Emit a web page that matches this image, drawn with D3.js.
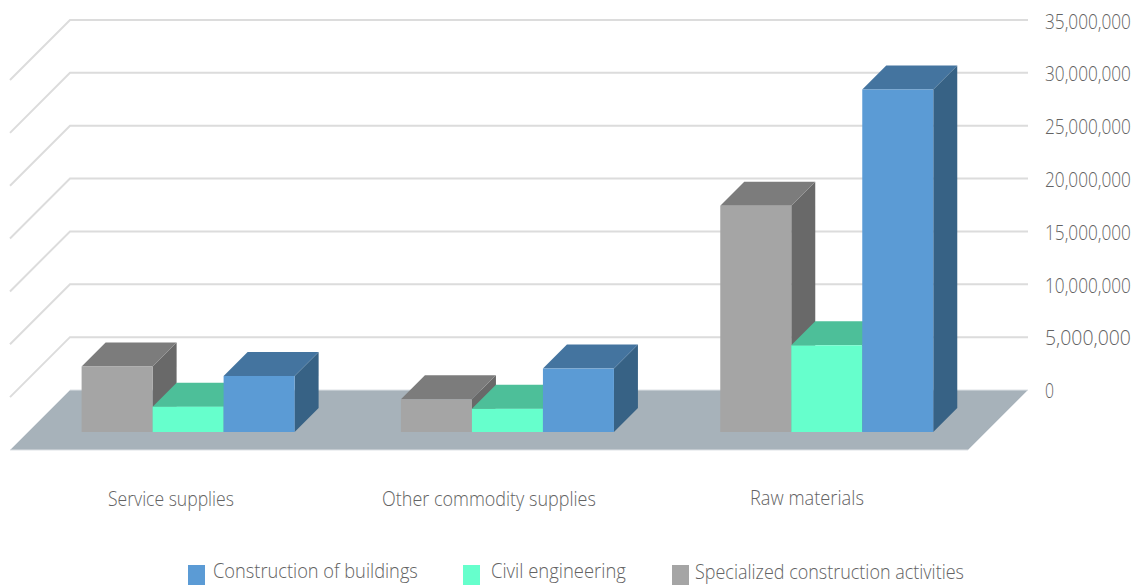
<!DOCTYPE html>
<html><head><meta charset="utf-8">
<style>html,body{margin:0;padding:0;background:#fff}svg{display:block}</style>
<script src="https://cdn.jsdelivr.net/npm/d3@7"></script></head>
<body><svg id="c" width="1139" height="587"></svg>
<script>
const categories = ["Service supplies","Other commodity supplies","Raw materials"];
const seriesNames = ["Specialized construction activities","Civil engineering","Construction of buildings"];
const specialized = [6200000,3100000,21400000];
const civil = [2400000,2200000,8200000];
const buildings = [5300000,6000000,32400000];
const tickValues = [0,5000000,10000000,15000000,20000000,25000000,30000000,35000000];
const legendOrder = ["Construction of buildings","Civil engineering","Specialized construction activities"];

const values = [specialized,civil,buildings];
const colors = {
  "Specialized construction activities":{front:"#a5a5a5",top:"#7c7c7c",side:"#696969"},
  "Civil engineering":{front:"#66ffcc",top:"#4dbf99",side:"#3d9a7b"},
  "Construction of buildings":{front:"#5b9bd5",top:"#44749f",side:"#376285"}
};
const svg = d3.select("#c");
const font = "'Open Sans', sans-serif";
const textColor = "#636363";

const floorL=10, floorR=968, floorFront=450, floorBack=390, wallDX=60, wallTop=20;
const barBase=432, barDepth=24;

const h = d3.scaleLinear().domain([0,35000000]).range([0,floorBack-wallTop]);
const yBack = v => floorBack - h(v);
const x0 = d3.scaleBand().domain(categories).range([floorL,floorR]);
const x1 = d3.scaleBand().domain(seriesNames).range([71.6,284.6]);

// text horizontally squeezed to the reference's width, starting at x
function label(x,y,str,width){
  const t = svg.append("text").text(str)
    .attr("font-family",font).attr("font-weight",300).attr("font-size",19.5)
    .attr("fill",textColor).attr("dominant-baseline","central");
  const natural = t.node().getComputedTextLength();
  t.attr("transform",`translate(${x},${y}) scale(${width/natural},1)`);
  return t;
}

// gridlines on the back and side walls
const line = d3.line();
svg.append("g").selectAll("path").data(tickValues.filter(d=>d>0)).join("path")
  .attr("d",d=>line([[floorL,yBack(d)+wallDX],[floorL+wallDX,yBack(d)],[floorR+wallDX,yBack(d)]]))
  .attr("fill","none").attr("stroke","#dcdcdc").attr("stroke-width",2);

// floor
svg.append("path")
  .attr("d",line([[floorL+wallDX,floorBack],[floorR+wallDX,floorBack],[floorR,floorFront],[floorL,floorFront]])+"Z")
  .attr("fill","#a7b2ba").attr("stroke","#dde1e5").attr("stroke-width",1);

// bars
const bars = svg.append("g");
categories.forEach((cat,ci)=>{
  seriesNames.forEach((name,si)=>{
    const v = values[si][ci];
    const c = colors[name];
    const l = x0(cat)+x1(name), r = l+x1.bandwidth(), t = barBase-h(v), b = barBase, d = barDepth;
    bars.append("path").attr("d",line([[r,t],[r+d,t-d],[r+d,b-d],[r,b]])+"Z").attr("fill",c.side);
    bars.append("path").attr("d",line([[l,t],[l+d,t-d],[r+d,t-d],[r,t]])+"Z").attr("fill",c.top);
    bars.append("rect").attr("x",l).attr("y",t).attr("width",r-l).attr("height",b-t).attr("fill",c.front);
  });
});

// value axis labels
const fmt = d3.format(",");
tickValues.forEach(v=>{
  label(1045,yBack(v)+0.6,fmt(v),v===0?9:86);
});

// category labels
const catX = [108,382,750];
const catWidths = [126,214,114];
categories.forEach((cat,i)=>{
  label(catX[i],498,cat,catWidths[i]);
});

// legend
const legendSwatchX = [188,463,672];
const legendTextX = [213,491,695];
const legendWidths = [205,135,269];
legendOrder.forEach((name,i)=>{
  svg.append("rect").attr("x",legendSwatchX[i]).attr("y",565).attr("width",17).attr("height",20).attr("fill",colors[name].front);
  label(legendTextX[i],571,name,legendWidths[i]);
});
</script></body></html>
